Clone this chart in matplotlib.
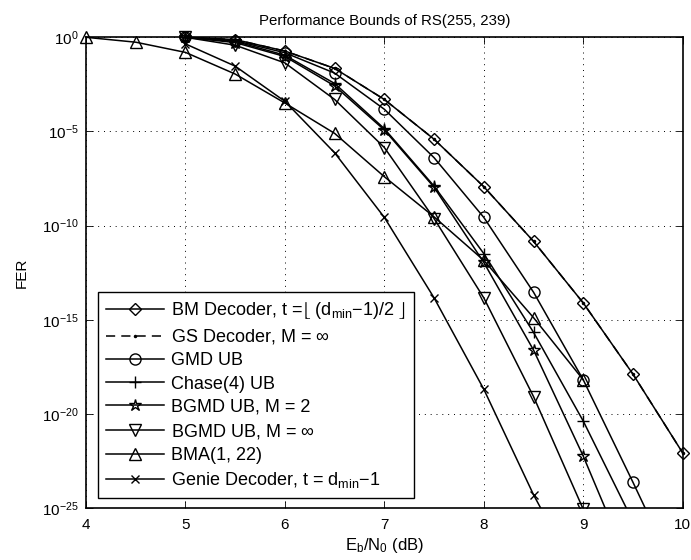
import matplotlib
matplotlib.use("Agg")
import matplotlib.pyplot as plt
from matplotlib.transforms import Bbox, TransformedBbox
import numpy as np

plt.rcParams['font.family'] = ['Liberation Sans', 'DejaVu Sans']
plt.rcParams['mathtext.fontset'] = 'custom'
plt.rcParams['mathtext.rm'] = 'Liberation Sans'
plt.rcParams['mathtext.it'] = 'Liberation Sans'
plt.rcParams['mathtext.default'] = 'regular'
plt.rcParams['font.size'] = 11

# Eb/N0 (dB) and log10(FER)
snr_bm = [5, 5.5, 6, 6.5, 7, 7.5, 8, 8.5, 9, 9.5, 10]
logfer_bm = [0, -0.12, -0.73, -1.65, -3.3, -5.41, -7.93, -10.83, -14.1, -17.88, -22.06]

snr_gs = [5, 5.5, 6, 6.5, 7, 7.5, 8, 8.5, 9, 9.5, 10]
logfer_gs = [0, -0.12, -0.73, -1.65, -3.3, -5.41, -7.93, -10.83, -14.1, -17.88, -22.06]

snr_gmd = [5, 5.5, 6, 6.5, 7, 7.5, 8, 8.5, 9, 9.5, 10]
logfer_gmd = [0, -0.18, -0.82, -1.9, -3.82, -6.39, -9.56, -13.53, -18.18, -23.62, -29.2]

snr_chase = [5, 5.5, 6, 6.5, 7, 7.5, 8, 8.5, 9, 9.5]
logfer_chase = [0, -0.22, -0.95, -2.45, -4.85, -7.9, -11.48, -15.66, -20.37, -25.7]

snr_bgmd2 = [5, 5.5, 6, 6.5, 7, 7.5, 8, 8.5, 9, 9.5]
logfer_bgmd2 = [0, -0.28, -1.02, -2.58, -4.92, -7.96, -11.95, -16.6, -22.23, -28.5]

snr_bgmdinf = [5, 5.5, 6, 6.5, 7, 7.5, 8, 8.5, 9]
logfer_bgmdinf = [0, -0.42, -1.36, -3.3, -5.85, -9.62, -13.83, -19.07, -25.05]

snr_bma = [4, 4.5, 5, 5.5, 6, 6.5, 7, 7.5, 8, 8.5, 9]
logfer_bma = [0, -0.26, -0.8, -1.95, -3.49, -5.1, -7.4, -9.53, -11.84, -14.88, -18.18]

snr_genie = [5, 5.5, 6, 6.5, 7, 7.5, 8, 8.5, 9]
logfer_genie = [-0.35, -1.53, -3.4, -6.13, -9.56, -13.83, -18.68, -24.28, -29.2]

labels = [
    r'BM Decoder, t =$\lfloor$ (d$_{\rm min}$$-$1)/2 $\rfloor$',
    r'GS Decoder, M = $\infty$',
    'GMD UB',
    'Chase(4) UB',
    'BGMD UB, M = 2',
    r'BGMD UB, M = $\infty$',
    'BMA(1, 22)',
    r'Genie Decoder, t = d$_{\rm min}$$-$1',
]

series = [
    (snr_bm, logfer_bm, dict(marker='D', markersize=6, linestyle='-', mfc='none')),
    (snr_gs, logfer_gs, dict(marker='.', markersize=3, linestyle=(0, (6, 4)), mfc='k')),
    (snr_gmd, logfer_gmd, dict(marker='o', markersize=8, linestyle='-', mfc='none')),
    (snr_chase, logfer_chase, dict(marker='+', markersize=9, linestyle='-', mfc='none')),
    (snr_bgmd2, logfer_bgmd2, dict(marker='*', markersize=9, linestyle='-', mfc='none')),
    (snr_bgmdinf, logfer_bgmdinf, dict(marker='v', markersize=8, linestyle='-', mfc='none')),
    (snr_bma, logfer_bma, dict(marker='^', markersize=8, linestyle='-', mfc='none')),
    (snr_genie, logfer_genie, dict(marker='x', markersize=6, linestyle='-', mfc='none')),
]

fig = plt.figure(figsize=(6.91, 5.6), dpi=100)
ax = fig.add_axes([86/691, 1-508.3/560, (682.7-86)/691, (508.3-37.3)/560])

clipbox = TransformedBbox(Bbox([[-0.03, 0.0], [1.03, 1.05]]), ax.transAxes)
order_z = [3, 2, 3, 3, 3, 3, 3, 3]
for (x, ly, st), lab, z in zip(series, labels, order_z):
    y = 10.0 ** np.asarray(ly)
    ln, = ax.semilogy(x, y, color='k', lw=1.1, mec='k', mew=1.0, label=lab, zorder=z, **st)
    ln.set_clip_box(clipbox)

ax.set_xlim(4, 10)
ax.set_ylim(1e-25, 1)
ax.set_xticks([4, 5, 6, 7, 8, 9, 10])
ax.set_yticks([1e-25, 1e-20, 1e-15, 1e-10, 1e-5, 1e0])
ax.yaxis.set_minor_locator(matplotlib.ticker.NullLocator())
ax.tick_params(direction='in', length=5, width=0.6, top=True, right=True, labelsize=11, pad=5)
ax.tick_params(axis='x', pad=7)
ax.grid(True, which='major', color='k', linestyle=(0, (1, 5)), linewidth=0.7)
for sp in ax.spines.values():
    sp.set_linewidth(1.2)

ax.set_title('Performance Bounds of RS(255, 239)', fontsize=10.8, pad=9)
ax.set_xlabel(r'E$_b$/N$_0$ (dB)', fontsize=12, labelpad=3)
ax.set_ylabel('FER', fontsize=11, labelpad=10)

leg = ax.legend(loc='lower left', bbox_to_anchor=(0.0206, 0.0212), borderaxespad=0,
                fontsize=13, handlelength=3.2, labelspacing=0.34, handletextpad=0.4,
                borderpad=0.45, fancybox=False, framealpha=1, edgecolor='k')
leg.get_frame().set_linewidth(1.0)

fig.savefig('out.png', dpi=100)
